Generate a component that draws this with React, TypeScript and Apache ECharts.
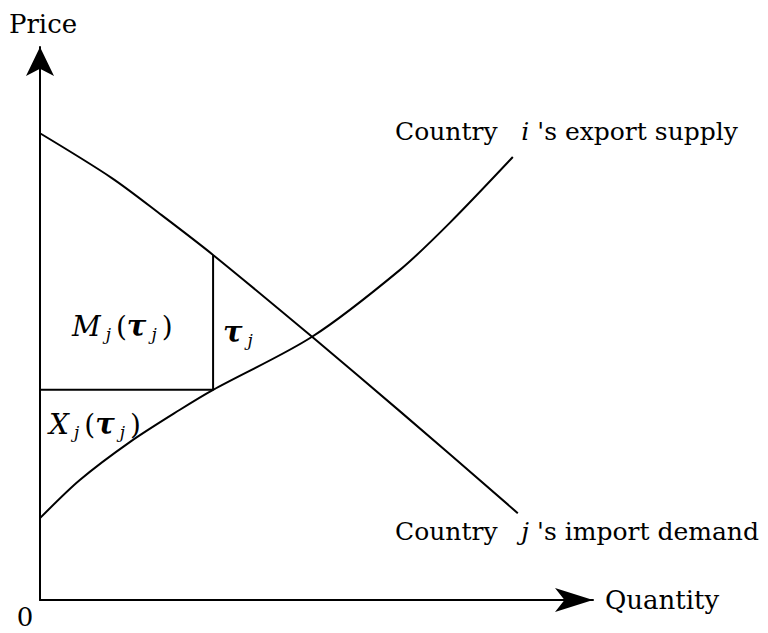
import React, { useEffect, useRef } from "react";
import * as echarts from "echarts";

// Country j's import demand (quantity, price)
const demandQ = [0, 1.3, 2.2, 3.13, 4.92, 6.5, 8.64];
const demandP = [8.44, 7.63, 6.96, 6.24, 4.76, 3.42, 1.57];
// Country i's export supply (quantity, price)
const supplyQ = [0, 0.72, 1.63, 2.53, 3.13, 4.92, 6.51, 7.41, 8.55];
const supplyP = [1.48, 2.17, 2.86, 3.44, 3.8, 4.76, 5.97, 6.82, 8.01];
// Tariff box corner: quantity, lower price (supply), upper price (demand)
const boxQ = 3.13;
const boxLow = 3.8;
const boxHigh = 6.24;

const axisNames = { x: "Quantity", y: "Price" };
const originLabel = "0";

const FONT = "DejaVu Serif";

export default function App() {
  const ref = useRef<HTMLDivElement>(null);
  useEffect(() => {
    if (!ref.current) return;
    const chart = echarts.init(ref.current, null, { renderer: "svg" });
    const line = (q: number[], p: number[]) => q.map((v, i) => [v, p[i]]);
    const base = { fontFamily: FONT, fontSize: 25, color: "#000" };
    const rich = {
      n: { fontFamily: FONT, fontSize: 25, color: "#000" },
      i: { fontFamily: FONT, fontSize: 25, fontStyle: "italic", color: "#000" },
      mn: { fontFamily: FONT, fontSize: 28, color: "#000" },
      mi: { fontFamily: FONT, fontSize: 28, fontStyle: "italic", color: "#000" },
      tau: { fontFamily: FONT, fontSize: 29, fontStyle: "italic", fontWeight: "bold", color: "#000" },
      sub: { fontFamily: FONT, fontSize: 17, fontStyle: "italic", color: "#000", padding: [16, 5, 0, 5] },
    };
    const txt = (x: number, y: number, text: string) => ({
      type: "text",
      x,
      y,
      style: {
        text,
        fill: "#000",
        fontFamily: FONT,
        fontSize: 25,
        align: "left",
        verticalAlign: "middle",
        rich,
      },
    });
    const curveStyle = { color: "#000", width: 2 };
    chart.setOption({
      animation: false,
      grid: { left: 40, top: 47, width: 553, height: 553 },
      xAxis: {
        type: "value",
        min: 0,
        max: 10,
        name: axisNames.x,
        nameLocation: "end",
        nameGap: 12,
        nameTextStyle: { ...base, fontSize: 26 },
        axisLine: {
          show: true,
          symbol: ["none", "arrow"],
          symbolSize: [18, 38],
          lineStyle: { color: "#000", width: 2 },
        },
        axisTick: { show: false },
        axisLabel: { show: false },
        splitLine: { show: false },
      },
      yAxis: {
        type: "value",
        min: 0,
        max: 10,
        name: axisNames.y,
        nameLocation: "end",
        nameGap: 10,
        nameTextStyle: { ...base, fontSize: 26, padding: [0, 0, 0, 6] },
        axisLine: {
          show: true,
          symbol: ["none", "arrow"],
          symbolSize: [21, 29],
          lineStyle: { color: "#000", width: 2 },
        },
        axisTick: { show: false },
        axisLabel: { show: false },
        splitLine: { show: false },
      },
      series: [
        {
          type: "line",
          data: line(demandQ, demandP),
          smooth: 0.3,
          symbol: "none",
          lineStyle: curveStyle,
        },
        {
          type: "line",
          data: line(supplyQ, supplyP),
          smooth: 0.3,
          symbol: "none",
          lineStyle: curveStyle,
        },
        {
          type: "line",
          data: [
            [0, boxLow],
            [boxQ, boxLow],
            [boxQ, boxHigh],
          ],
          symbol: "none",
          lineStyle: curveStyle,
        },
      ],
      graphic: [
        txt(395, 131, "{n|Country   }{i|i}{n| 's export supply}"),
        txt(395, 531, "{n|Country   }{i|j}{n| 's import demand}"),
        txt(72, 326, "{mi|M}{sub|j}{mn|(}{tau|τ}{sub|j}{mn|)}"),
        txt(223, 332, "{tau|τ}{sub|j}"),
        txt(49, 424, "{mi|X}{sub|j}{mn|(}{tau|τ}{sub|j}{mn|)}"),
        {
          type: "text",
          x: 25,
          y: 617,
          style: {
            text: originLabel,
            fill: "#000",
            fontFamily: FONT,
            fontSize: 26,
            align: "center",
            verticalAlign: "middle",
          },
        },
      ],
    });
    return () => chart.dispose();
  }, []);
  return (
    <div
      ref={ref}
      style={{ position: "absolute", left: 0, top: 0, width: 768, height: 633, background: "#fff" }}
    />
  );
}
